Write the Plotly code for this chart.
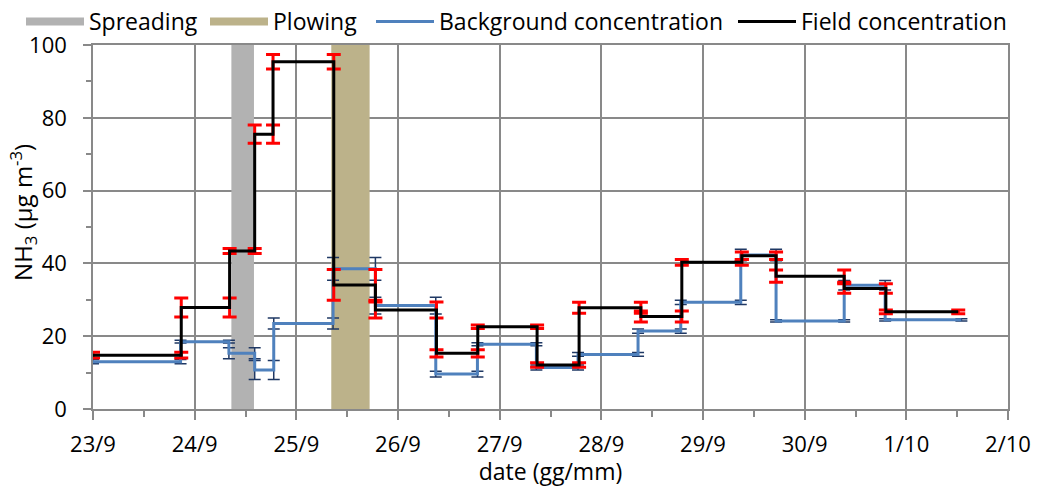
import plotly.graph_objects as go

# ---------------- data ----------------
# Field concentration (black step line): segment start times, last end time, values, error (±)
field_start = ["2013-09-23 00:00", "2013-09-23 20:50", "2013-09-24 08:15", "2013-09-24 14:10",
               "2013-09-24 18:30", "2013-09-25 08:50", "2013-09-25 18:40", "2013-09-26 09:05",
               "2013-09-26 18:50", "2013-09-27 08:50", "2013-09-27 18:45", "2013-09-28 09:20",
               "2013-09-28 19:00", "2013-09-29 09:10", "2013-09-29 17:15", "2013-09-30 09:20",
               "2013-09-30 19:10"]
field_last_end = "2013-10-01 12:15"
field_values = [14.8, 27.9, 43.4, 75.5, 95.4, 34.1, 27.2, 15.3, 22.6, 12.1, 27.8, 25.4,
                40.3, 42.1, 36.5, 33.1, 26.7]
field_errors = [0.8, 2.6, 0.7, 2.5, 2.0, 4.2, 2.2, 1.0, 0.5, 0.6, 1.5, 1.5,
                0.8, 1.0, 1.7, 1.3, 0.5]

# Background concentration (blue step line)
bg_start = ["2013-09-23 00:00", "2013-09-23 20:40", "2013-09-24 08:05", "2013-09-24 14:10",
            "2013-09-24 18:40", "2013-09-25 08:40", "2013-09-25 18:40", "2013-09-26 08:55",
            "2013-09-26 18:45", "2013-09-27 08:40", "2013-09-27 18:30", "2013-09-28 08:40",
            "2013-09-28 18:45", "2013-09-29 08:55", "2013-09-29 17:15", "2013-09-30 09:20",
            "2013-09-30 19:00"]
bg_last_end = "2013-10-01 13:00"
bg_values = [13.0, 18.5, 15.3, 10.7, 23.5, 38.5, 28.4, 9.6, 17.8, 11.4, 15.0, 21.4,
             29.3, 42.3, 24.2, 34.0, 24.5]
bg_errors = [0.6, 0.4, 1.5, 2.6, 1.5, 3.1, 2.3, 0.8, 0.4, 0.7, 0.5, 0.6,
             0.6, 1.6, 0.3, 1.3, 0.3]

# Operation periods (vertical bands)
spreading_period = ["2013-09-24 08:40", "2013-09-24 14:00"]
plowing_period = ["2013-09-25 08:15", "2013-09-25 17:18"]

x_ticks_range = ["2013-09-23", "2013-10-02"]
y_range = [0, 100]

# ---------------- styles ----------------
GRID = "#898989"
FONT = "Open Sans"
C_SPREAD = "#B2B2B2"
C_PLOW = "#BCB28A"
C_BG = "#4F81BD"
C_BG_ERR = "#1F3864"
C_FIELD = "#000000"
C_FIELD_ERR = "#FF0000"


def step_points(starts, last_end, values, errors):
    ends = starts[1:] + [last_end]
    xs, ys, es = [], [], []
    for s, e, v, er in zip(starts, ends, values, errors):
        xs += [s, e]
        ys += [v, v]
        es += [er, er]
    return xs, ys, es


fig = go.Figure()

# legend entries
fig.add_trace(go.Scatter(x=[None], y=[None], mode="lines", name="Spreading",
                         line=dict(color=C_SPREAD, width=8), legend="legend"))
fig.add_trace(go.Scatter(x=[None], y=[None], mode="lines", name="Plowing",
                         line=dict(color=C_PLOW, width=8), legend="legend2"))

# bands
for period, col in [(spreading_period, C_SPREAD), (plowing_period, C_PLOW)]:
    fig.add_trace(go.Scatter(
        x=[period[0], period[1], period[1], period[0], period[0]],
        y=[y_range[0], y_range[0], y_range[1], y_range[1], y_range[0]],
        mode="lines", fill="toself", fillcolor=col, line=dict(width=0, color=col),
        showlegend=False, hoverinfo="skip"))

bx, by, be = step_points(bg_start, bg_last_end, bg_values, bg_errors)
fig.add_trace(go.Scatter(
    x=bx, y=by, mode="lines", name="Background concentration", legend="legend3",
    line=dict(color=C_BG, width=3),
    error_y=dict(type="data", array=be, color=C_BG_ERR, thickness=1.5, width=6)))

fx, fy, fe = step_points(field_start, field_last_end, field_values, field_errors)
fig.add_trace(go.Scatter(
    x=fx, y=fy, mode="lines", name="Field concentration", legend="legend4",
    line=dict(color=C_FIELD, width=3),
    error_y=dict(type="data", array=fe, color=C_FIELD_ERR, thickness=3, width=7)))

axis_common = dict(
    showgrid=True, gridcolor=GRID, gridwidth=1.5,
    showline=True, linecolor=GRID, linewidth=1.5, mirror=True,
    ticks="outside", tickcolor=GRID, tickwidth=1.5,
    zeroline=False, automargin=False,
    tickfont=dict(family=FONT, size=22, color="#000000"),
)


def legend_at(px):
    return dict(orientation="h", xref="container", yref="container",
                x=px / 1046, xanchor="left", y=1.0, yanchor="top",
                font=dict(family=FONT, size=23, color="#000000"),
                bgcolor="rgba(0,0,0,0)", itemwidth=58)


fig.update_layout(
    width=1046, height=487,
    margin=dict(l=93, r=38, t=45, b=78, autoexpand=False),
    paper_bgcolor="white", plot_bgcolor="white",
    font=dict(family=FONT, size=22, color="#000000"),
    showlegend=True,
    legend=legend_at(21), legend2=legend_at(205), legend3=legend_at(371),
    legend4=legend_at(733),
    xaxis=dict(
        type="date", range=x_ticks_range, tick0=x_ticks_range[0], dtick=86400000,
        tickformat="%-d/%-m", ticklen=9, ticklabelstandoff=6,
        minor=dict(dtick=43200000, ticks="outside", ticklen=6, tickcolor=GRID,
                   tickwidth=1.5, showgrid=False),
        title=dict(text="date (gg/mm)", font=dict(family=FONT, size=23), standoff=2),
        **axis_common),
    yaxis=dict(
        range=y_range, dtick=20, ticklen=8, ticklabelstandoff=12,
        minor=dict(dtick=10, ticks="outside", ticklen=5, tickcolor=GRID,
                   tickwidth=1.5, showgrid=False),
        **axis_common),
    annotations=[dict(text="NH<sub>3</sub> (µg m<sup>-3</sup>)", textangle=-90,
                      xref="paper", yref="paper", x=-0.076, y=0.54,
                      xanchor="center", yanchor="middle", showarrow=False,
                      font=dict(family=FONT, size=24, color="#000000"))],
)

fig.write_html("out.html")
